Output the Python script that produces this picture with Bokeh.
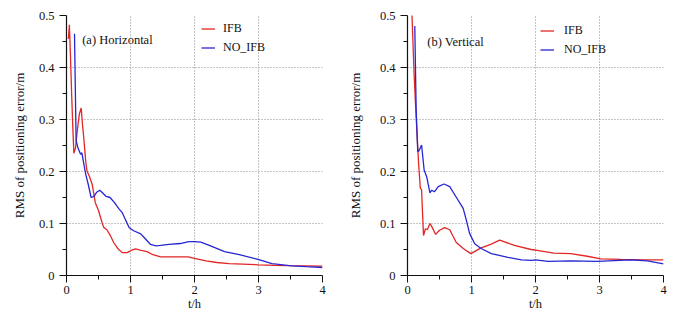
from bokeh.plotting import figure
from bokeh.layouts import row
from bokeh.models import FixedTicker, Legend, LegendItem, Label
from bokeh.embed import file_html
from bokeh.resources import INLINE

# ---- data ----
x_ticks = [0, 1, 2, 3, 4]
x_tick_labels = ["0", "1", "2", "3", "4"]
x_minor = [0.5, 1.5, 2.5, 3.5]
y_ticks = [0, 0.1, 0.2, 0.3, 0.4, 0.5]
y_tick_labels = ["0", "0.1", "0.2", "0.3", "0.4", "0.5"]
y_minor = [0.05, 0.15, 0.25, 0.35, 0.45]

series_names = ["IFB", "NO_IFB"]
panel_titles = ["(a) Horizontal", "(b) Vertical"]
x_label = "t/h"
y_label = "RMS of positioning error/m"

h_ifb_t = [0.03, 0.045, 0.06, 0.08, 0.10, 0.115, 0.14, 0.17, 0.2, 0.23, 0.25, 0.27, 0.30, 0.32, 0.36, 0.40,
           0.45, 0.50, 0.56, 0.58, 0.63, 0.68, 0.74, 0.80, 0.87, 0.95, 1.02, 1.08, 1.15, 1.26, 1.35, 1.47,
           1.6, 1.75, 1.9, 2.0, 2.18, 2.35, 2.54, 2.75, 3.0, 3.25, 3.47, 3.75, 4.0]
h_ifb_v = [0.455, 0.482, 0.43, 0.35, 0.28, 0.235, 0.245, 0.28, 0.31, 0.322, 0.29, 0.265, 0.22, 0.201, 0.19, 0.176,
           0.14, 0.125, 0.10, 0.093, 0.088, 0.078, 0.063, 0.052, 0.044, 0.044, 0.049, 0.051, 0.049, 0.046, 0.040, 0.036,
           0.036, 0.036, 0.036, 0.033, 0.028, 0.025, 0.023, 0.022, 0.0206, 0.0195, 0.019, 0.0185, 0.018]

h_no_t = [0.125, 0.15, 0.18, 0.22, 0.24, 0.27, 0.30, 0.34, 0.385, 0.43, 0.47, 0.52, 0.57, 0.62, 0.68, 0.75,
          0.82, 0.87, 0.93, 0.98, 1.05, 1.16, 1.22, 1.31, 1.4, 1.47, 1.6, 1.78, 1.91, 2.0, 2.1, 2.25, 2.47,
          2.7, 2.98, 3.21, 3.52, 3.75, 4.0]
h_no_v = [0.465, 0.26, 0.245, 0.233, 0.236, 0.215, 0.195, 0.175, 0.15, 0.152, 0.16, 0.164, 0.158, 0.152, 0.15, 0.14,
          0.128, 0.121, 0.105, 0.092, 0.086, 0.08, 0.072, 0.06, 0.057, 0.058, 0.06, 0.0615, 0.065, 0.065, 0.064, 0.057, 0.046,
          0.04, 0.0315, 0.023, 0.0187, 0.017, 0.0154]

v_ifb_t = [0.05, 0.07, 0.104, 0.137, 0.176, 0.20, 0.22, 0.235, 0.25, 0.28, 0.31, 0.35, 0.38, 0.44, 0.50, 0.58,
           0.66, 0.76, 0.87, 0.99, 1.15, 1.3, 1.44, 1.67, 1.93, 2.0, 2.29, 2.55, 2.81, 3.02, 3.33, 3.7, 4.0]
v_ifb_v = [0.58, 0.5, 0.384, 0.30, 0.21, 0.168, 0.165, 0.12, 0.077, 0.09, 0.088, 0.10, 0.094, 0.079, 0.087, 0.092,
           0.088, 0.064, 0.052, 0.042, 0.053, 0.060, 0.068, 0.058, 0.050, 0.049, 0.043, 0.042, 0.037, 0.032, 0.031, 0.030, 0.030]

v_no_t = [0.114, 0.135, 0.16, 0.18, 0.22, 0.26, 0.30, 0.35, 0.38, 0.42, 0.48, 0.57, 0.66, 0.76, 0.87, 0.92,
          0.97, 1.05, 1.15, 1.31, 1.57, 1.78, 1.93, 2.0, 2.2, 2.55, 2.97, 3.49, 3.75, 4.0]
v_no_v = [0.48, 0.32, 0.238, 0.24, 0.251, 0.203, 0.19, 0.159, 0.164, 0.161, 0.171, 0.176, 0.171, 0.151, 0.129, 0.106,
          0.081, 0.061, 0.052, 0.042, 0.035, 0.030, 0.029, 0.030, 0.027, 0.028, 0.027, 0.030, 0.028, 0.0225]

RED = "#e32626"
BLUE = "#2626d4"
FONT = "Liberation Serif"


def make_panel(title, ifb_t, ifb_v, no_t, no_v, border_left, border_right, label_standoff,
               legend_loc, legend_standoff, title_xy):
    p = figure(frame_width=256, frame_height=260, x_range=(0, 4), y_range=(0, 0.5),
               min_border_left=border_left, min_border_right=border_right,
               min_border_top=15, min_border_bottom=43,
               output_backend="svg", toolbar_location=None)
    p.outline_line_color = None
    p.background_fill_color = "white"
    p.border_fill_color = "white"

    p.xaxis.ticker = FixedTicker(ticks=x_ticks, minor_ticks=x_minor)
    p.yaxis.ticker = FixedTicker(ticks=y_ticks, minor_ticks=y_minor)
    p.xaxis.major_label_overrides = dict(zip(x_ticks, x_tick_labels))
    p.yaxis.major_label_overrides = dict(zip(y_ticks, y_tick_labels))

    for ax in (p.xaxis[0], p.yaxis[0]):
        ax.axis_line_color = "#111111"
        ax.axis_line_width = 1.2
        ax.major_tick_line_color = "#111111"
        ax.minor_tick_line_color = "#111111"
        ax.major_tick_in = 0
        ax.major_tick_out = 7
        ax.minor_tick_in = 0
        ax.minor_tick_out = 4
        ax.major_label_text_font = FONT
        ax.major_label_text_font_size = "12.5px"
        ax.major_label_text_color = "#111111"
        ax.axis_label_text_font = FONT
        ax.axis_label_text_font_style = "normal"
        ax.axis_label_text_color = "#111111"

    p.xaxis.major_label_standoff = 3
    p.yaxis.major_label_standoff = 5
    p.yaxis.axis_label = y_label
    p.yaxis.axis_label_text_font_size = "13px"
    p.yaxis.axis_label_standoff = label_standoff
    p.xaxis.axis_label = x_label
    p.xaxis.axis_label_text_font_size = "12.5px"
    p.xaxis.axis_label_standoff = 0

    p.xgrid.grid_line_color = "#8a8a8a"
    p.ygrid.grid_line_color = "#8a8a8a"
    p.xgrid.grid_line_dash = "1 2"
    p.ygrid.grid_line_dash = "1 2"
    p.xgrid.grid_line_width = 1
    p.ygrid.grid_line_width = 1

    r1 = p.line(ifb_t, ifb_v, line_color=RED, line_width=1.3)
    r2 = p.line(no_t, no_v, line_color=BLUE, line_width=1.3)

    legend = Legend(items=[LegendItem(label=series_names[0], renderers=[r1]),
                           LegendItem(label=series_names[1], renderers=[r2])],
                    location=legend_loc, padding=0, margin=0, spacing=0,
                    glyph_width=14, glyph_height=19, label_height=19,
                    label_standoff=legend_standoff,
                    label_text_font=FONT, label_text_font_size="12px",
                    label_text_color="#111111",
                    background_fill_alpha=0, border_line_color=None)
    p.add_layout(legend)

    p.add_layout(Label(x=title_xy[0], y=title_xy[1], text=title, text_font=FONT,
                       text_font_size="12.5px", text_color="#111111",
                       text_baseline="alphabetic", text_align="left"))
    return p


p1 = make_panel(panel_titles[0], h_ifb_t, h_ifb_v, h_no_t, h_no_v,
                border_left=66, border_right=22, label_standoff=9,
                legend_loc=(135, 218), legend_standoff=8, title_xy=(0.245, 0.452))
p2 = make_panel(panel_titles[1], v_ifb_t, v_ifb_v, v_no_t, v_no_v,
                border_left=62, border_right=26, label_standoff=14,
                legend_loc=(133, 216), legend_standoff=10, title_xy=(0.31, 0.449))

layout = row(p1, p2)
open("out.html", "w").write(file_html(layout, INLINE))
